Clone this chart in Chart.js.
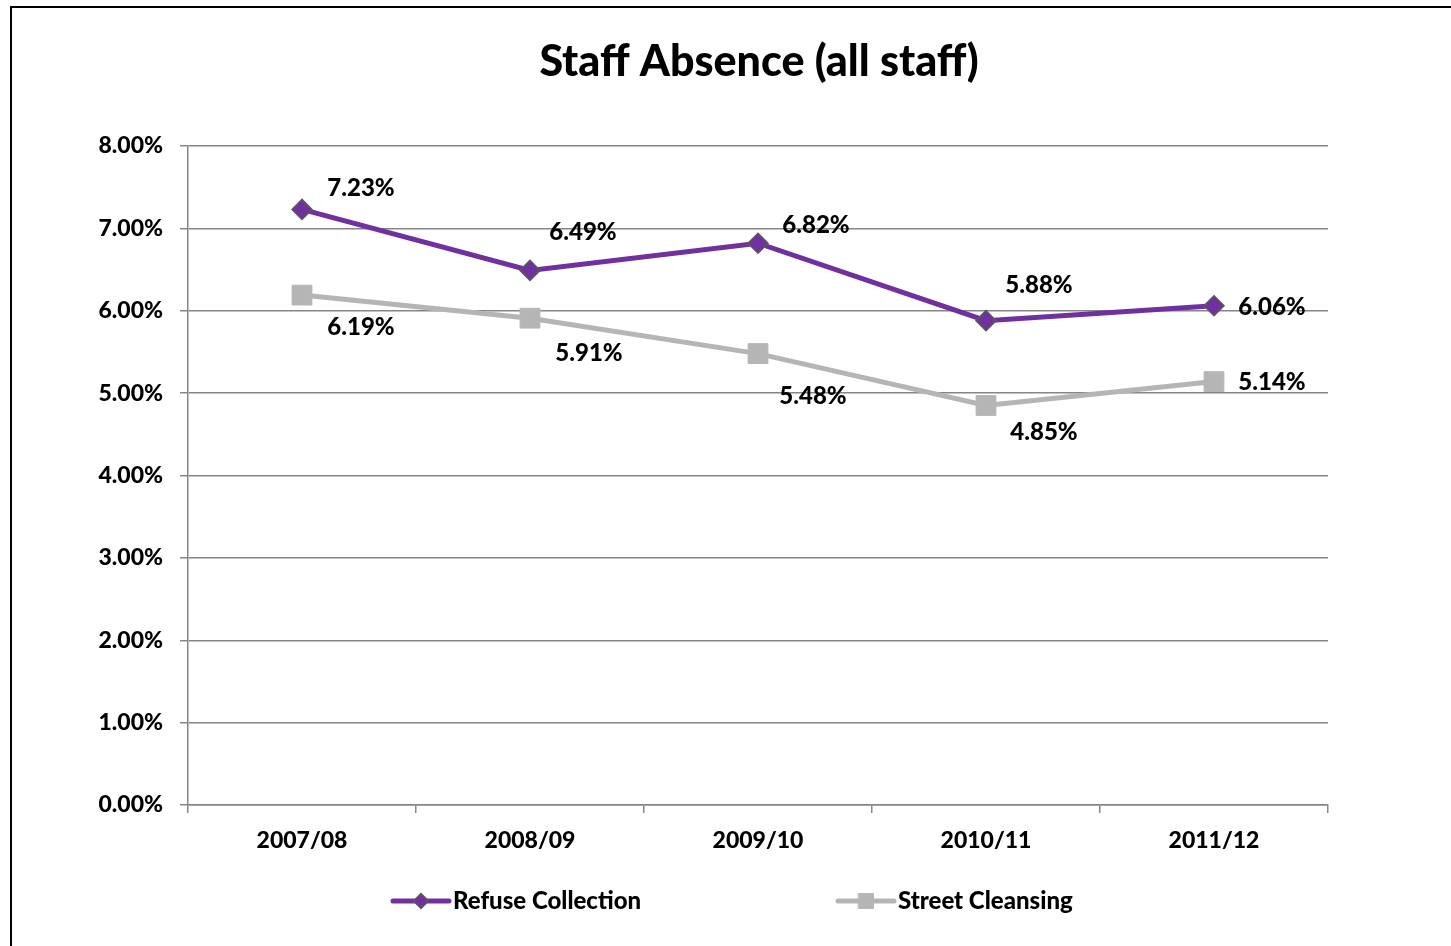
<!DOCTYPE html>
<html>
<head>
<meta charset="utf-8">
<script src="https://cdn.jsdelivr.net/npm/chart.js@4.4.0/dist/chart.umd.min.js"></script>
<style>
  html, body { margin: 0; padding: 0; background: #fff; }
  #wrap { width: 1451px; height: 946px; position: relative; }
</style>
</head>
<body>
<div id="wrap"><canvas id="chart" width="1451" height="946"></canvas></div>
<script>
const years = ['2007/08', '2008/09', '2009/10', '2010/11', '2011/12'];
const refuseCollection = [7.23, 6.49, 6.82, 5.88, 6.06];
const streetCleansing = [6.19, 5.91, 5.48, 4.85, 5.14];
const yTicks = [0, 1, 2, 3, 4, 5, 6, 7, 8];
const chartTitle = 'Staff Absence (all staff)';

// label nudges (like the hand-placed labels in the sheet)
const refuseLabelShift = [[59, -21], [53, -38], [58, -18], [53, -35], [58, 1]];
const streetLabelShift = [[59, 32], [59, 35], [55, 43], [58, 27], [58, 1]];

const FONT = 'Lato, "Open Sans", sans-serif';
const PURPLE = '#7030A0';
const GREY = '#B5B5B5';

// frame, title, data labels and legend
const decorPlugin = {
  id: 'decor',
  beforeDraw(chart) {
    const ctx = chart.ctx;
    ctx.save();
    ctx.fillStyle = '#fff';
    ctx.fillRect(0, 0, chart.width, chart.height);
    ctx.strokeStyle = '#000';
    ctx.lineWidth = 2;
    ctx.strokeRect(11, 7, chart.width + 20, chart.height + 20);
    ctx.restore();
  },
  afterDraw(chart) {
    const ctx = chart.ctx;
    ctx.save();
    ctx.fillStyle = '#000';
    ctx.textAlign = 'center';
    ctx.textBaseline = 'middle';
    ctx.font = '900 43px ' + FONT;
    ctx.fillText(chartTitle, 759, 62);

    ctx.font = '900 24px ' + FONT;
    const shifts = [refuseLabelShift, streetLabelShift];
    chart.data.datasets.forEach((ds, i) => {
      const meta = chart.getDatasetMeta(i);
      meta.data.forEach((pt, j) => {
        const s = shifts[i][j];
        ctx.fillText(ds.data[j].toFixed(2) + '%', pt.x + s[0], pt.y + s[1]);
      });
    });

    // legend: line with marker, then name
    const legendY = 901;
    const legendX = [393, 838];
    ctx.textAlign = 'left';
    chart.data.datasets.forEach((ds, i) => {
      const x0 = legendX[i];
      ctx.strokeStyle = ds.borderColor;
      ctx.lineWidth = ds.borderWidth;
      ctx.lineCap = 'round';
      ctx.beginPath();
      ctx.moveTo(x0, legendY);
      ctx.lineTo(x0 + 56, legendY);
      ctx.stroke();
      ctx.fillStyle = ds.pointBackgroundColor;
      ctx.strokeStyle = ds.pointBorderColor;
      ctx.lineWidth = ds.pointBorderWidth;
      Chart.helpers.drawPoint(ctx, {
        pointStyle: ds.pointStyle,
        radius: ds.pointRadius * 0.75,
        borderWidth: ds.pointBorderWidth
      }, x0 + 28, legendY);
      ctx.fillStyle = '#000';
      ctx.fillText(ds.label, x0 + 60, legendY);
    });
    ctx.restore();
  }
};

new Chart(document.getElementById('chart'), {
  type: 'line',
  data: {
    labels: years,
    datasets: [
      {
        label: 'Refuse Collection',
        data: refuseCollection,
        borderColor: PURPLE,
        borderWidth: 5,
        pointStyle: 'rectRot',
        pointRadius: 10,
        pointBackgroundColor: PURPLE,
        pointBorderColor: '#5a5a5a',
        pointBorderWidth: 1.5,
        tension: 0
      },
      {
        label: 'Street Cleansing',
        data: streetCleansing,
        borderColor: GREY,
        borderWidth: 5,
        pointStyle: 'rect',
        pointRadius: 14,
        pointBackgroundColor: GREY,
        pointBorderColor: GREY,
        pointBorderWidth: 1,
        tension: 0
      }
    ]
  },
  options: {
    responsive: false,
    animation: false,
    devicePixelRatio: 1,
    layout: { padding: { top: 146, right: 123, left: 0, bottom: 0 } },
    plugins: {
      legend: { display: false },
      title: { display: false },
      tooltip: { enabled: false }
    },
    scales: {
      x: {
        offset: true,
        grid: { offset: true, drawOnChartArea: false, drawTicks: true, tickLength: 8, color: '#868686', lineWidth: 1.5 },
        border: { color: '#868686', width: 1.5 },
        ticks: { color: '#000', font: { family: FONT, size: 23, weight: '900' }, padding: 14, maxRotation: 0 },
        afterFit(scale) { scale.height = 141; }
      },
      y: {
        min: 0,
        max: 8,
        afterBuildTicks(scale) { scale.ticks = yTicks.map(v => ({ value: v })); },
        grid: { color: '#868686', lineWidth: 1.5, tickLength: 8 },
        border: { color: '#868686', width: 1.5 },
        ticks: {
          color: '#000',
          font: { family: FONT, size: 23, weight: '900' },
          padding: 17,
          callback: v => v.toFixed(2) + '%'
        },
        afterFit(scale) { scale.width = 188; }
      }
    }
  },
  plugins: [decorPlugin]
});
</script>
</body>
</html>
